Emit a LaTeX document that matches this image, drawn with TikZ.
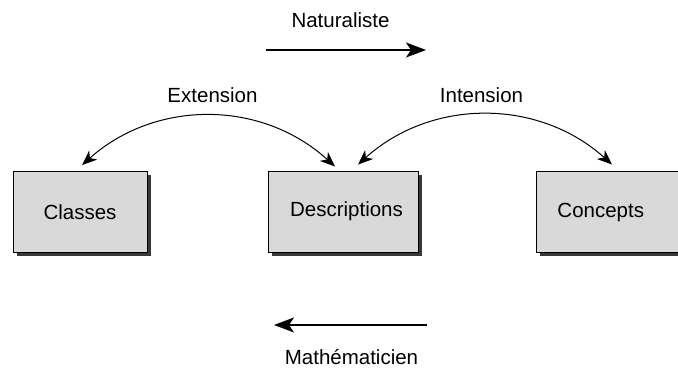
\documentclass[tikz,border=0pt]{standalone}
\usepackage{fontspec}
\setmainfont{Liberation Sans}
\usetikzlibrary{arrows.meta,shadows}
\begin{document}
\begin{tikzpicture}[x=1pt,y=1pt,
  font=\fontsize{20.5}{24}\selectfont,
  box/.style={draw=black, line width=0.9pt, fill=black!15,
    minimum height=81pt, inner sep=0pt,
    drop shadow={shadow xshift=3.5pt, shadow yshift=-3.5pt, fill=black!78, opacity=1}},
  bigarrow/.style={line width=1.2pt, -{Stealth[length=20pt,width=15pt,inset=5pt]}},
  arcarrow/.style={line width=1pt, {Stealth[length=15pt,width=12pt,inset=4.5pt]}-{Stealth[length=15pt,width=12pt,inset=4.5pt]}},
  lbl/.style={inner sep=0pt}]
\useasboundingbox (0,0) rectangle (678,368);
\clip (0,0) rectangle (678,368);

% the three boxes
\node[box, minimum width=134pt] (cls) at (80,156) {Classes};
\node[box, minimum width=150pt] (desc) at (343,156.5) {\hspace*{7pt}Descriptions};
\node[box, anchor=west, inner xsep=21pt, text width=130pt, align=left] (conc) at (536,156) {Concepts};

% end points of the curved arrows, just above the boxes
\coordinate (ea) at ([xshift=2pt,yshift=6pt]cls.north);
\coordinate (eb) at ([xshift=-8pt,yshift=4pt]desc.north);
\coordinate (ia) at ([xshift=15pt,yshift=6pt]desc.north);
\coordinate (ib) at ([xshift=76pt,yshift=6.5pt]conc.north west);

\draw[arcarrow] (ea) to[bend left=42] (eb);
\draw[arcarrow] (ia) to[bend left=42] (ib);

\node[lbl] (ext) at (212.5,273) {Extension};
\node[lbl] (int) at (481.5,273) {Intension};

% horizontal arrows and their labels
\node[lbl] (nat) at (340.5,348) {Naturaliste};
\coordinate (na) at (266,318);
\coordinate (nb) at (426,318);
\draw[bigarrow] (na) -- (nb);

\node[lbl] (math) at (351.5,11) {Mathématicien};
\coordinate (ma) at (427,43);
\coordinate (mb) at (274,43);
\draw[bigarrow] (ma) -- (mb);
\end{tikzpicture}
\end{document}
